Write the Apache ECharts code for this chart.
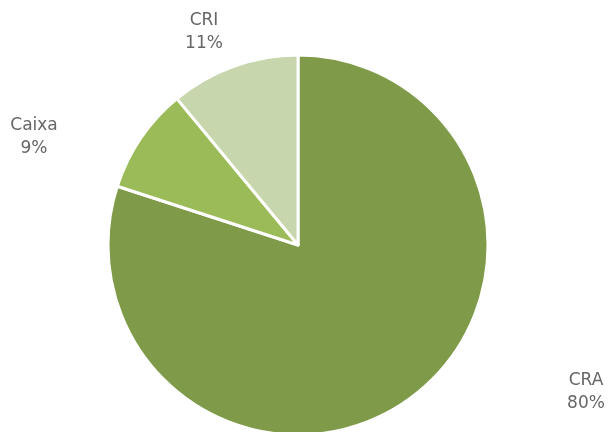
<!DOCTYPE html>
<html><head><meta charset="utf-8">
<script src="https://cdn.jsdelivr.net/npm/echarts@6/dist/echarts.min.js"></script>
<style>html,body{margin:0;padding:0;background:#fff}#c{width:608px;height:432px}</style>
</head><body><div id="c"></div>
<script>
const categories = ['CRA', 'Caixa', 'CRI'];
const values = [80, 9, 11];
const colors = ['#7F9A48', '#9BBB59', '#C7D6AD'];
const labelPos = [[586, 392], [34, 137], [204, 32]];

const chart = echarts.init(document.getElementById('c'));
chart.setOption({
  animation: false,
  series: [{
    type: 'pie',
    center: [298, 245],
    radius: 190,
    startAngle: 90,
    clockwise: true,
    data: categories.map((n, i) => ({ name: n, value: values[i], itemStyle: { color: colors[i] } })),
    itemStyle: { borderColor: '#fff', borderWidth: 3 },
    label: {
      show: true,
      position: 'outside',
      formatter: p => p.name + '\n' + p.value + '%',
      color: '#666666',
      fontFamily: 'DejaVu Sans',
      fontSize: 17,
      lineHeight: 23,
      align: 'center'
    },
    labelLine: { show: false },
    labelLayout: p => ({ x: labelPos[p.dataIndex][0], y: labelPos[p.dataIndex][1], align: 'center', verticalAlign: 'middle' })
  }]
});
</script></body></html>
